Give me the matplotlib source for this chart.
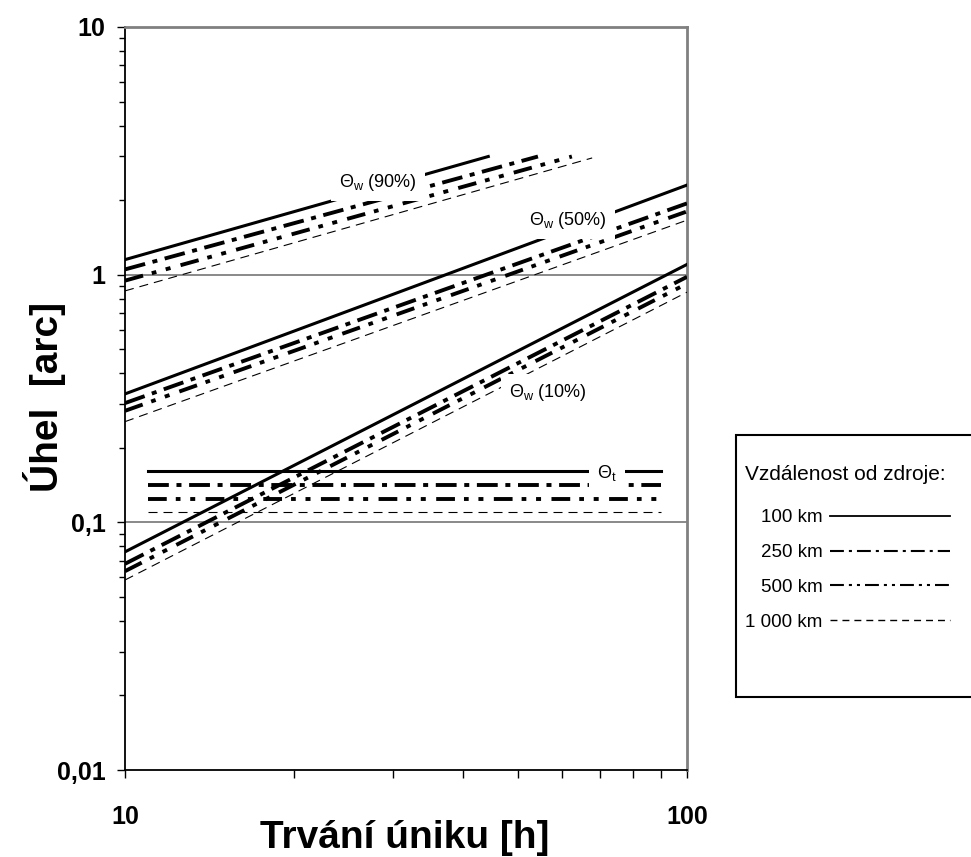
import numpy as np
import matplotlib
matplotlib.use('Agg')
import matplotlib.pyplot as plt
from matplotlib.lines import Line2D
from matplotlib.patches import Rectangle
from matplotlib.ticker import FixedLocator, FixedFormatter, LogLocator, NullFormatter

plt.rcParams['font.family'] = ['Liberation Sans', 'DejaVu Sans']
plt.rcParams['mathtext.fontset'] = 'custom'
plt.rcParams['mathtext.rm'] = 'Liberation Sans'
plt.rcParams['lines.scale_dashes'] = False

# ---- data (straight lines on log-log axes) ----
distances = ['100 km', '250 km', '500 km', '1 000 km']
x_lo, x_hi = 10, 100
w10_lo = [0.076, 0.068, 0.0635, 0.0585]     # theta_w (10%) at 10 h
w10_hi = [1.10, 0.98, 0.92, 0.85]           # theta_w (10%) at 100 h
w50_lo = [0.33, 0.303, 0.282, 0.255]        # theta_w (50%) at 10 h
w50_hi = [2.30, 1.94, 1.80, 1.66]           # theta_w (50%) at 100 h
w90_lo = [1.15, 1.05, 0.946, 0.86]          # theta_w (90%) at 10 h
w90_end_x = [44.3, 54.3, 62.4, 67.8]        # theta_w (90%) stops here
w90_end_y = [3.0, 3.0, 3.0, 2.96]
t_x = [11, 90]
theta_t = [0.161, 0.141, 0.124, 0.110]      # theta_t (constant)

yticks = [0.01, 0.1, 1, 10]
ytick_labels = ['0,01', '0,1', '1', '10']
xticks = [10, 100]
xtick_labels = ['10', '100']

# line styles per distance
plot_styles = [
    dict(lw=2.2, ls='-'),
    dict(lw=2.8, ls=(0, (15, 5.5, 3.6, 5.5))),
    dict(lw=2.8, ls=(0, (13.5, 6.5, 3.4, 7, 3.6, 7.5))),
    dict(lw=0.8, ls=(0, (6.5, 4.3))),
]
legend_styles = [
    dict(lw=1.3, ls='-'),
    dict(lw=1.5, ls=(0, (10, 3.6, 2.2, 3.6))),
    dict(lw=1.5, ls=(0, (10, 3.6, 2.2, 3.6, 2.2, 3.6))),
    dict(lw=1.0, ls=(0, (5, 3.6))),
]

fig = plt.figure(figsize=(9.71, 8.57), dpi=100)
ax = fig.add_axes([125/971, 1-770/857, 562/971, 743/857])
ax.set_xscale('log')
ax.set_yscale('log')
ax.set_xlim(10, 100)
ax.set_ylim(0.01, 10)

for i in range(4):
    st = plot_styles[i]
    ax.plot([x_lo, x_hi], [w10_lo[i], w10_hi[i]], color='black', **st, zorder=3)
    ax.plot([x_lo, x_hi], [w50_lo[i], w50_hi[i]], color='black', **st, zorder=3)
    ax.plot([x_lo, w90_end_x[i]], [w90_lo[i], w90_end_y[i]], color='black', **st, zorder=3)
    ax.plot(t_x, [theta_t[i], theta_t[i]], color='black', **st, zorder=3)

# grid lines at 0.1 and 1
for yv in [0.1, 1]:
    ax.axhline(yv, color='#808080', lw=1.3, zorder=1)

# labels with white boxes
box = dict(facecolor='white', edgecolor='none', boxstyle='square,pad=0.45')
ax.text(28.2, 2.35, 'Θ$_\\mathrm{w}$ (90%)', fontsize=13, ha='center', va='center', bbox=box, zorder=5)
ax.text(61.4, 1.66, 'Θ$_\\mathrm{w}$ (50%)', fontsize=13, ha='center', va='center', bbox=box, zorder=5)
ax.text(56.6, 0.333, 'Θ$_\\mathrm{w}$ (10%)', fontsize=13, ha='center', va='center', bbox=box, zorder=5)
ax.text(72, 0.158, 'Θ$_\\mathrm{t}$', fontsize=13, ha='center', va='center', bbox=box, zorder=5)

# spines
for s in ['top', 'right']:
    ax.spines[s].set_color('#808080')
    ax.spines[s].set_linewidth(2)
for s in ['left', 'bottom']:
    ax.spines[s].set_color('black')
    ax.spines[s].set_linewidth(1.3)

# ticks
ax.yaxis.set_major_locator(FixedLocator(yticks))
ax.yaxis.set_major_formatter(FixedFormatter(ytick_labels))
ax.yaxis.set_minor_locator(LogLocator(base=10, subs=np.arange(2, 10)))
ax.yaxis.set_minor_formatter(NullFormatter())
ax.xaxis.set_major_locator(FixedLocator(xticks))
ax.xaxis.set_major_formatter(FixedFormatter(xtick_labels))
ax.xaxis.set_minor_locator(LogLocator(base=10, subs=np.arange(2, 10)))
ax.xaxis.set_minor_formatter(NullFormatter())
ax.tick_params(axis='y', which='major', direction='out', length=6, width=1, pad=8, labelsize=18)
ax.tick_params(axis='y', which='minor', direction='out', length=4, width=1)
ax.tick_params(axis='x', which='both', direction='out', length=6, width=1)
ax.tick_params(axis='x', which='major', pad=19, labelsize=18)
for lab in ax.get_xticklabels() + ax.get_yticklabels():
    lab.set_fontweight('bold')

fig.text(405/971, 1-838/857, 'Trvání úniku [h]', fontsize=28, fontweight='bold',
         ha='center', va='center')
fig.text(45/971, 1-397/857, 'Úhel  [arc]', fontsize=28, fontweight='bold',
         ha='center', va='center', rotation=90)

# legend with a frame running past the right edge
fig.patches.append(Rectangle((736/971, 1-697/857), 240/971, 262/857, transform=fig.transFigure,
                             facecolor='white', edgecolor='black', lw=1.5, zorder=0))
fig.text(745/971, 1-475/857, 'Vzdálenost od zdroje:', fontsize=15, ha='left', va='center')
handles = [Line2D([], [], color='black', **legend_styles[i]) for i in range(4)]
leg = fig.legend(handles, distances, loc='upper right',
                 bbox_to_anchor=(950/971, 1-509/857), frameon=False, fontsize=13.5,
                 markerfirst=False, handlelength=6.4, handletextpad=0.4,
                 labelspacing=0.95, borderpad=0, borderaxespad=0)

fig.savefig('out.png', dpi=100)
